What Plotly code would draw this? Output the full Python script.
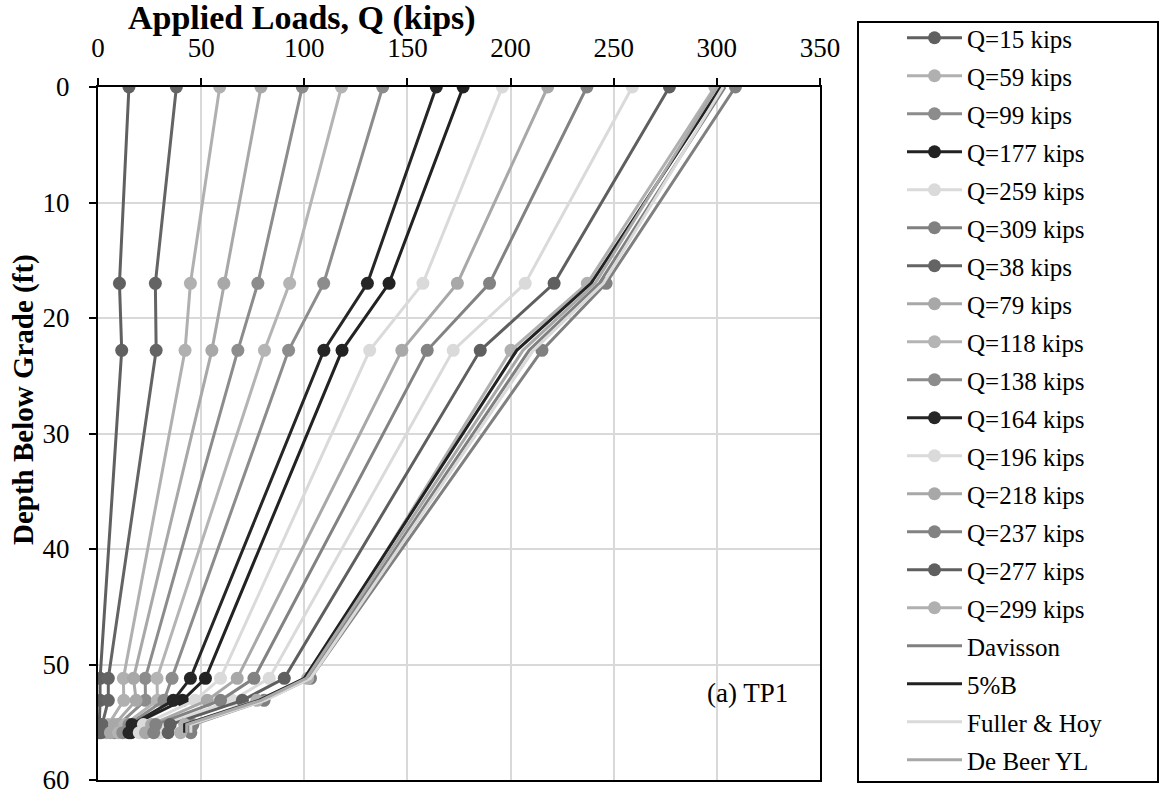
import plotly.graph_objects as go

# ---------------- data ----------------
depths = [0, 17, 22.8, 51.2, 53.1, 55.2, 55.9]

q_names = ["Q=15 kips", "Q=59 kips", "Q=99 kips", "Q=177 kips", "Q=259 kips", "Q=309 kips",
           "Q=38 kips", "Q=79 kips", "Q=118 kips", "Q=138 kips", "Q=164 kips", "Q=196 kips",
           "Q=218 kips", "Q=237 kips", "Q=277 kips", "Q=299 kips"]

q15 = [15, 10.4, 11.5, 1.0, 1.0, 0.7, 0.5]
q59 = [59, 44.8, 42.2, 12.3, 12.5, 5, 4]
q99 = [99, 77.5, 67.8, 22.9, 23, 10, 8]
q177 = [177, 141.1, 118.3, 52.1, 41, 17, 16]
q259 = [259, 207.1, 172.2, 83, 65, 32, 30]
q309 = [309, 246.3, 215.2, 103, 80.5, 46, 45]
q38 = [38, 27.8, 28.2, 5, 5, 2, 1.5]
q79 = [79, 61, 55.2, 17.2, 18.5, 8, 6]
q118 = [118, 92.9, 80.7, 28.6, 28.8, 13, 10]
q138 = [138, 109.4, 92.4, 35.9, 32, 15, 12]
q164 = [164, 130.6, 109.5, 44.8, 36.5, 16.5, 15]
q196 = [196, 157.5, 131.7, 59.4, 47, 22, 20]
q218 = [218, 174.2, 147.3, 67.5, 53, 26, 23]
q237 = [237, 189.8, 159.6, 75.6, 59.4, 28, 27]
q277 = [277, 221.1, 185.3, 90.3, 70, 35, 34]
q299 = [299, 237.2, 200.2, 101.6, 77, 42, 40]

q_series = [q15, q59, q99, q177, q259, q309, q38, q79, q118, q138, q164, q196, q218, q237, q277, q299]
q_colors = ["#606060", "#b0b0b0", "#8c8c8c", "#222222", "#dadada", "#808080",
            "#646464", "#a8a8a8", "#b4b4b4", "#8c8c8c", "#262626", "#dadada",
            "#a8a8a8", "#828282", "#5f5f5f", "#b0b0b0"]

ref_names = ["Davisson", "5%B", "Fuller & Hoy", "De Beer YL"]
davisson = [304, 243, 209, 102, 80, 44, 44]
five_pct_b = [302, 239, 203, 100, 78, 42, 42]
fuller_hoy = [303, 245, 211, 103, 81, 45, 45]
de_beer = [300, 241, 206, 101, 79, 43, 43]
ref_series = [davisson, five_pct_b, fuller_hoy, de_beer]
ref_colors = ["#808080", "#222222", "#dadada", "#a8a8a8"]

x_ticks = [0, 50, 100, 150, 200, 250, 300, 350]
y_ticks = [0, 10, 20, 30, 40, 50, 60]

# ---------------- figure ----------------
FONT = "Liberation Serif, Times New Roman, serif"
fig = go.Figure()

for i, (name, vals, col) in enumerate(zip(q_names, q_series, q_colors)):
    fig.add_trace(go.Scatter(
        x=vals, y=depths, name=name, mode="lines+markers",
        line=dict(color=col, width=3),
        marker=dict(color=col, size=13),
        legendgroup=f"g{i}",
    ))

for j, (name, vals, col) in enumerate(zip(ref_names, ref_series, ref_colors)):
    fig.add_trace(go.Scatter(
        x=vals, y=depths, name=name, mode="lines",
        line=dict(color=col, width=3),
        legendgroup=f"r{j}",
    ))

W, H = 1161, 794
L, R, T, B = 98, 820, 87, 780
pw, ph = R - L, B - T

def px(xp):
    return (xp - L) / pw

def py(yp):
    return (B - yp) / ph

fig.update_layout(
    width=W, height=H,
    margin=dict(l=L, r=W - R, t=T, b=H - B, pad=0, autoexpand=False),
    paper_bgcolor="white", plot_bgcolor="white",
    font=dict(family=FONT, color="black", size=27),
    showlegend=True,
    legend=dict(
        x=px(902), y=py(15), xanchor="left", yanchor="top",
        font=dict(family=FONT, size=25, color="black"),
        bgcolor="rgba(0,0,0,0)", borderwidth=0,
        tracegroupgap=2.5, itemwidth=55, maxheight=790,
    ),
    xaxis=dict(
        side="top", range=[0, 350], tickvals=x_ticks, ticktext=[str(v) for v in x_ticks],
        showgrid=True, gridcolor="#d9d9d9", gridwidth=2,
        showline=True, linecolor="black", linewidth=2, mirror=True,
        ticks="outside", ticklen=7, tickwidth=2, tickcolor="black",
        tickfont=dict(family=FONT, size=27), ticklabelstandoff=10,
        ticklabeloverflow="allow",
        zeroline=False, automargin=False,
    ),
    yaxis=dict(
        range=[60, 0], tickvals=y_ticks, ticktext=[str(v) for v in y_ticks],
        showgrid=True, gridcolor="#d9d9d9", gridwidth=2,
        showline=True, linecolor="black", linewidth=2, mirror=True,
        ticks="outside", ticklen=7, tickwidth=2, tickcolor="black",
        tickfont=dict(family=FONT, size=27), ticklabelstandoff=14,
        ticklabeloverflow="allow",
        zeroline=False, automargin=False,
    ),
    shapes=[dict(type="rect", xref="paper", yref="paper",
                 x0=px(858), x1=px(1158), y0=py(782), y1=py(22),
                 line=dict(color="black", width=2), fillcolor="rgba(0,0,0,0)")],
    annotations=[
        dict(text="<b>Applied Loads, Q (kips)</b>", xref="paper", yref="paper",
             x=px(302), y=py(18), xanchor="center", yanchor="middle", showarrow=False,
             font=dict(family=FONT, size=34, color="black")),
        dict(text="<b>Depth Below Grade (ft)</b>", xref="paper", yref="paper",
             x=px(23), y=py(400), xanchor="center", yanchor="middle", showarrow=False,
             textangle=-90, font=dict(family=FONT, size=29, color="black")),
        dict(text="(a) TP1", xref="paper", yref="paper",
             x=px(747), y=py(693), xanchor="center", yanchor="middle", showarrow=False,
             font=dict(family=FONT, size=27, color="black")),
    ],
)

fig.write_html("out.html", config={"displayModeBar": False},
               post_script="document.body.style.margin='0';document.body.style.overflow='hidden';")
